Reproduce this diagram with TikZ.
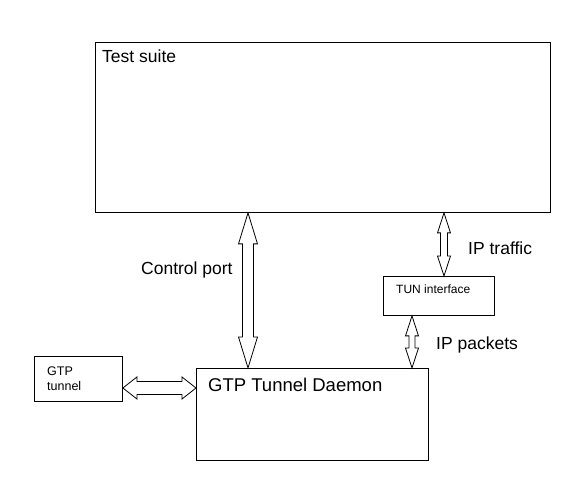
\documentclass[tikz,border=0pt]{standalone}
\usepackage{fontspec}
\setmainfont{Liberation Sans}
\usetikzlibrary{calc}
\tikzset{
  box/.style={draw=black, line width=0.9pt, fill=white, inner sep=0pt},
  lbl/.style={inner sep=0pt, anchor=base west, font=\fontsize{17.5}{20}\selectfont},
  small/.style={inner sep=0pt, anchor=base west, font=\fontsize{12.5}{15}\selectfont},
  harr/.style={draw=black, line width=0.8pt, fill=white, line join=miter},
}
% vertical hollow double arrow: #1 top, #2 bottom, #3 shaft half, #4 head half, #5 head length
\newcommand{\vdarrow}[5]{%
  \draw[harr] (#1) -- ($(#1)+(#4,-#5)$) -- ($(#1)+(#3,-#5)$) -- ($(#2)+(#3,#5)$) -- ($(#2)+(#4,#5)$)
    -- (#2) -- ($(#2)+(-#4,#5)$) -- ($(#2)+(-#3,#5)$) -- ($(#1)+(-#3,-#5)$) -- ($(#1)+(-#4,-#5)$) -- cycle;}
% horizontal hollow double arrow: #1 left, #2 right
\newcommand{\hdarrow}[5]{%
  \draw[harr] (#1) -- ($(#1)+(#5,#4)$) -- ($(#1)+(#5,#3)$) -- ($(#2)+(-#5,#3)$) -- ($(#2)+(-#5,#4)$)
    -- (#2) -- ($(#2)+(-#5,-#4)$) -- ($(#2)+(-#5,-#3)$) -- ($(#1)+(#5,-#3)$) -- ($(#1)+(#5,-#4)$) -- cycle;}
\begin{document}
\begin{tikzpicture}[x=1pt,y=1pt]
\fill[white] (0,0) rectangle (587,494);
\useasboundingbox (0,0) rectangle (587,494);

% boxes (pixel coords, y flipped)
\node[box, minimum width=455pt, minimum height=170pt, anchor=north west] (suite) at (95,452) {};
\node[box, minimum width=232pt, minimum height=92pt, anchor=north west] (daemon) at (196,126) {};
\node[box, minimum width=88pt, minimum height=45pt, anchor=north west] (gtp) at (34,138) {};
\node[box, minimum width=111pt, minimum height=39pt, anchor=north west] (tun) at (383,218) {};

% texts
\node[lbl] (tsuite) at (102,431) {Test suite};
\node[lbl, font=\fontsize{18.5}{20}\selectfont] (tdaemon) at (208,102) {GTP Tunnel Daemon};
\node[lbl] (tcp) at (141,219) {Control port};
\node[lbl] (tip) at (468,239) {IP traffic};
\node[lbl] (tpk) at (436,144) {IP packets};
\node[small] (tgtp) at (47,118) {GTP};
\node[small] (ttunnel) at (47,103.3) {tunnel};
\node[small, font=\fontsize{12}{14}\selectfont] (ttun) at (396,200) {TUN interface};

% connector x-positions
\coordinate (cpx) at (248,0);
\coordinate (ipx) at (444,0);
\coordinate (pkx) at (412,0);
\coordinate (hy) at (0,106);

\coordinate (cpT) at (cpx |- suite.south);
\coordinate (cpB) at (cpx |- daemon.north);
\coordinate (ipT) at (ipx |- suite.south);
\coordinate (ipB) at (ipx |- tun.north);
\coordinate (pkT) at (pkx |- tun.south);
\coordinate (pkB) at (pkx |- daemon.north);
\coordinate (hL) at (gtp.east |- hy);
\coordinate (hR) at (daemon.west |- hy);

\vdarrow{cpT}{cpB}{5.5}{9.5}{31}
\vdarrow{ipT}{ipB}{3.5}{6.5}{20}
\vdarrow{pkT}{pkB}{3}{6.5}{20}
\hdarrow{hL}{hR}{6.5}{11}{14}
\end{tikzpicture}
\end{document}
